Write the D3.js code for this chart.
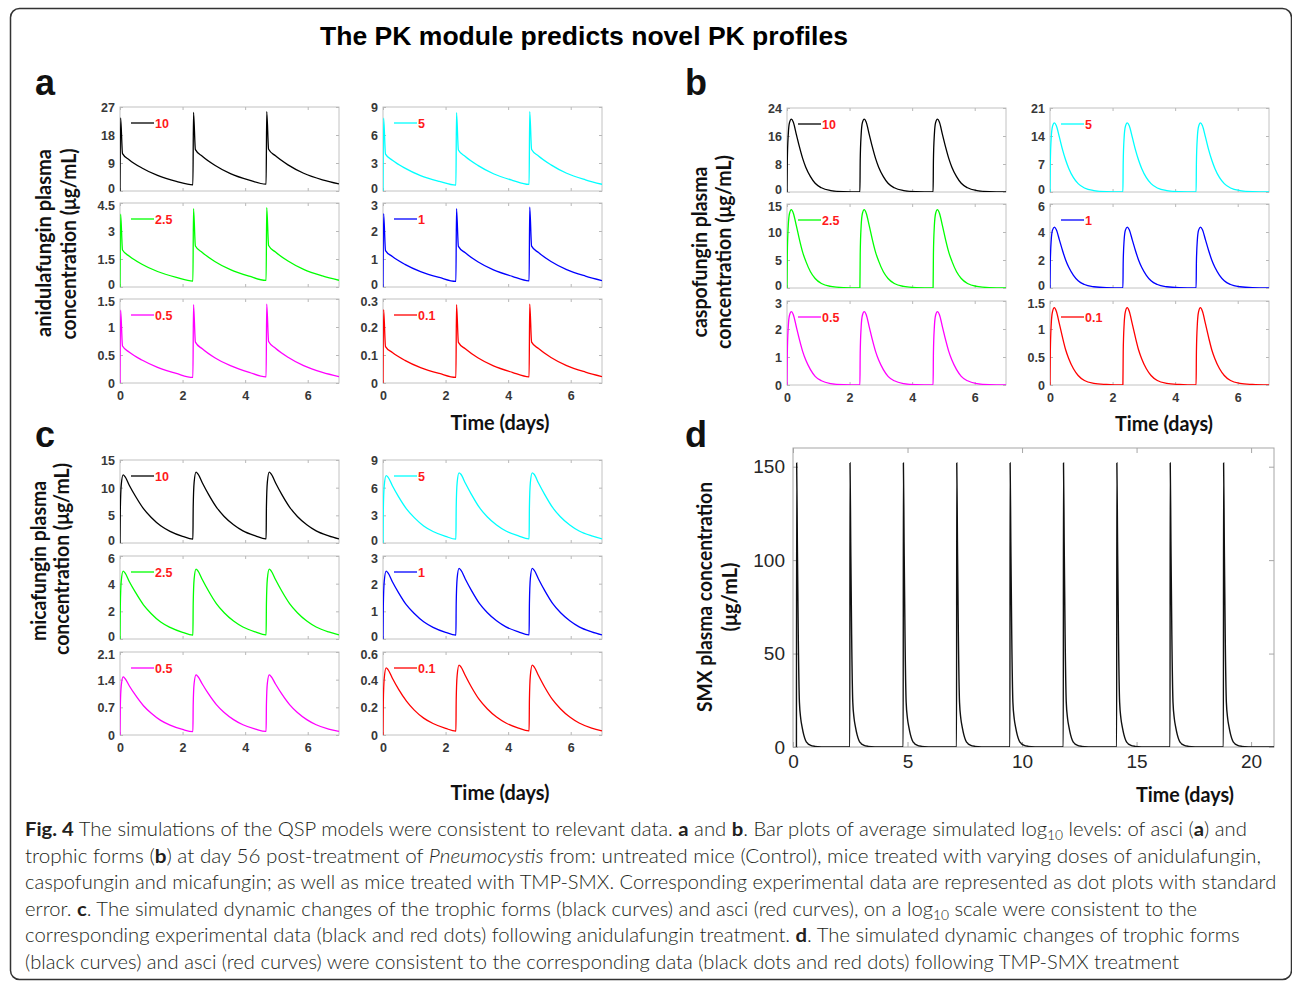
<!DOCTYPE html>
<html>
<head>
<meta charset="utf-8">
<script src="https://cdn.jsdelivr.net/npm/d3@7"></script>
<style>
body{margin:0;background:#fff}
svg{display:block}
</style>
</head>
<body>
<script>
// ---------------- data ----------------
var titleText = "The PK module predicts novel PK profiles";
var dayTicks = [0, 2, 4, 6];
var doseTimes = [0, 2.33, 4.67];
var leftDoses = ["10", "2.5", "0.5"];
var rightDoses = ["5", "1", "0.1"];
var doseColors = ["#000000", "#00ffff", "#00ff00", "#0000ff", "#ff00ff", "#ff0000"];
var doseOrder = ["10", "5", "2.5", "1", "0.5", "0.1"];

// anidulafungin: three cycles per dose
var anidOffsets = [0, 0.02, 0.08, 0.3, 0.7, 1.2, 1.8, 2.33];
var anid10 = [[0, 23.5, 12.0, 10.0, 7.4, 5.0, 3.1, 2.0], [2.0, 25.3, 13.3, 11.2, 8.3, 5.6, 3.5, 2.2], [2.2, 25.5, 13.4, 11.3, 8.4, 5.7, 3.6, 2.3]];
var anid5 = [[0, 7.8, 3.95, 3.3, 2.45, 1.65, 1.03, 0.62], [0.62, 8.4, 4.4, 3.7, 2.75, 1.85, 1.15, 0.7], [0.7, 8.5, 4.45, 3.75, 2.8, 1.9, 1.2, 0.72]];
var anid2p5 = [[0, 3.9, 1.98, 1.65, 1.22, 0.83, 0.52, 0.32], [0.32, 4.2, 2.2, 1.85, 1.37, 0.93, 0.58, 0.35], [0.35, 4.25, 2.22, 1.87, 1.39, 0.94, 0.59, 0.36]];
var anid1 = [[0, 2.62, 1.3, 1.09, 0.81, 0.55, 0.34, 0.2], [0.2, 2.8, 1.45, 1.22, 0.9, 0.61, 0.38, 0.22], [0.22, 2.85, 1.46, 1.23, 0.91, 0.62, 0.39, 0.23]];
var anid0p5 = [[0, 1.3, 0.66, 0.55, 0.41, 0.28, 0.17, 0.1], [0.1, 1.4, 0.73, 0.61, 0.45, 0.31, 0.19, 0.11], [0.11, 1.41, 0.74, 0.62, 0.46, 0.31, 0.19, 0.115]];
var anid0p1 = [[0, 0.262, 0.13, 0.109, 0.081, 0.055, 0.034, 0.02], [0.02, 0.28, 0.145, 0.122, 0.09, 0.061, 0.038, 0.022], [0.022, 0.282, 0.146, 0.123, 0.091, 0.062, 0.039, 0.023]];
var anidTicks = [[0, 9, 18, 27], [0, 3, 6, 9], [0, 1.5, 3, 4.5], [0, 1, 2, 3], [0, 0.5, 1, 1.5], [0, 0.1, 0.2, 0.3]];

// caspofungin: every cycle looks the same
var casOffsets = [0, 0.01, 0.04, 0.08, 0.14, 0.2, 0.3, 0.4, 0.5, 0.6, 0.75, 0.9, 1.1, 1.4, 1.8, 2.33];
var cas10 = [0, 9.0, 16.4, 19.8, 20.8, 20.0, 16.4, 12.8, 9.6, 7.1, 4.4, 2.5, 1.2, 0.42, 0.1, 0.02];
var cas5 = [0, 7.4, 13.7, 16.4, 17.3, 16.6, 13.7, 10.6, 8.0, 5.9, 3.6, 2.1, 1.0, 0.35, 0.09, 0.02];
var cas2p5 = [0, 6.0, 11.1, 13.3, 14.0, 13.4, 11.1, 8.6, 6.4, 4.8, 2.9, 1.7, 0.8, 0.28, 0.07, 0.01];
var cas1 = [0, 1.87, 3.44, 4.13, 4.35, 4.18, 3.44, 2.68, 2.0, 1.48, 0.91, 0.52, 0.25, 0.09, 0.02, 0];
var cas0p5 = [0, 1.13, 2.07, 2.49, 2.62, 2.52, 2.07, 1.61, 1.2, 0.89, 0.55, 0.31, 0.15, 0.05, 0.01, 0];
var cas0p1 = [0, 0.59, 1.09, 1.31, 1.38, 1.32, 1.09, 0.85, 0.63, 0.47, 0.29, 0.17, 0.08, 0.03, 0.01, 0];
var casTicks = [[0, 8, 16, 24], [0, 7, 14, 21], [0, 5, 10, 15], [0, 2, 4, 6], [0, 1, 2, 3], [0, 0.5, 1, 1.5]];

// micafungin: three cycles per dose
var micaOffsets = [0, 0.01, 0.04, 0.1, 0.16, 0.3, 0.5, 0.75, 1.0, 1.3, 1.6, 2.0, 2.33];
var mica10 = [[0, 6.0, 10.5, 12.3, 12.0, 10.4, 8.4, 6.2, 4.6, 3.1, 2.1, 1.2, 0.7], [0.7, 6.5, 11.0, 12.8, 12.5, 10.9, 8.8, 6.5, 4.8, 3.3, 2.2, 1.3, 0.75], [0.75, 6.5, 11.0, 12.8, 12.5, 10.9, 8.8, 6.5, 4.8, 3.3, 2.2, 1.3, 0.75]];
var mica5 = [[0, 3.6, 6.25, 7.3, 7.15, 6.2, 5.0, 3.7, 2.75, 1.85, 1.25, 0.72, 0.42], [0.42, 3.9, 6.55, 7.6, 7.45, 6.5, 5.25, 3.85, 2.85, 1.95, 1.3, 0.77, 0.45], [0.45, 3.9, 6.55, 7.6, 7.45, 6.5, 5.25, 3.85, 2.85, 1.95, 1.3, 0.77, 0.45]];
var mica2p5 = [[0, 2.4, 4.2, 4.9, 4.78, 4.14, 3.35, 2.47, 1.83, 1.23, 0.84, 0.48, 0.28], [0.28, 2.55, 4.35, 5.05, 4.93, 4.3, 3.47, 2.56, 1.9, 1.3, 0.87, 0.51, 0.3], [0.3, 2.55, 4.35, 5.05, 4.93, 4.3, 3.47, 2.56, 1.9, 1.3, 0.87, 0.51, 0.3]];
var mica1 = [[0, 1.2, 2.09, 2.45, 2.39, 2.07, 1.67, 1.23, 0.92, 0.62, 0.42, 0.24, 0.14], [0.14, 1.29, 2.19, 2.55, 2.49, 2.17, 1.75, 1.29, 0.96, 0.66, 0.44, 0.26, 0.15], [0.15, 1.29, 2.19, 2.55, 2.49, 2.17, 1.75, 1.29, 0.96, 0.66, 0.44, 0.26, 0.15]];
var mica0p5 = [[0, 0.72, 1.25, 1.47, 1.43, 1.24, 1.0, 0.74, 0.55, 0.37, 0.25, 0.14, 0.085], [0.085, 0.77, 1.31, 1.52, 1.48, 1.29, 1.04, 0.77, 0.57, 0.39, 0.26, 0.15, 0.09], [0.09, 0.77, 1.31, 1.52, 1.48, 1.29, 1.04, 0.77, 0.57, 0.39, 0.26, 0.15, 0.09]];
var mica0p1 = [[0, 0.24, 0.41, 0.485, 0.473, 0.41, 0.33, 0.245, 0.18, 0.122, 0.083, 0.048, 0.028], [0.028, 0.255, 0.43, 0.505, 0.493, 0.43, 0.345, 0.255, 0.19, 0.13, 0.087, 0.05, 0.03], [0.03, 0.255, 0.43, 0.505, 0.493, 0.43, 0.345, 0.255, 0.19, 0.13, 0.087, 0.05, 0.03]];
var micaTicks = [[0, 5, 10, 15], [0, 3, 6, 9], [0, 2, 4, 6], [0, 1, 2, 3], [0, 0.7, 1.4, 2.1], [0, 0.2, 0.4, 0.6]];

// SMX, panel d
var smxDoseTimes = [0.15, 2.48, 4.81, 7.14, 9.47, 11.8, 14.13, 16.46, 18.79];
var smxOffsets = [0, 0.01, 0.04, 0.08, 0.13, 0.19, 0.25, 0.32, 0.4, 0.5, 0.6, 0.8, 1.1, 1.6, 2.32];
var smxCycle = [0, 152, 110, 60, 24, 15, 10.5, 6.5, 3.5, 1.8, 1.0, 0.35, 0.08, 0.01, 0];
var smxYTicks = [0, 50, 100, 150];
var smxXTicks = [0, 5, 10, 15, 20];

var captionLines = [
  [["Fig. 4", "b"], [" The simulations of the QSP models were consistent to relevant data. "], ["a", "b"], [" and "], ["b", "b"], [". Bar plots of average simulated log"], ["10", "sub"], [" levels: of asci ("], ["a", "b"], [") and"]],
  [["trophic forms ("], ["b", "b"], [") at day 56 post-treatment of "], ["Pneumocystis", "i"], [" from: untreated mice (Control), mice treated with varying doses of anidulafungin,"]],
  [["caspofungin and micafungin; as well as mice treated with TMP-SMX. Corresponding experimental data are represented as dot plots with standard"]],
  [["error. "], ["c", "b"], [". The simulated dynamic changes of the trophic forms (black curves) and asci (red curves), on a log"], ["10", "sub"], [" scale were consistent to the"]],
  [["corresponding experimental data (black and red dots) following anidulafungin treatment. "], ["d", "b"], [". The simulated dynamic changes of trophic forms"]],
  [["(black curves) and asci (red curves) were consistent to the corresponding data (black dots and red dots) following TMP-SMX treatment"]]
];

// ---------------- drawing ----------------
var W = 1292, H = 983;
var tickFont = "'Liberation Sans', Arial, sans-serif";
var labelFont = "Lato, 'Open Sans', sans-serif";

var svg = d3.select("body").append("svg")
  .attr("width", W)
  .attr("height", H);

svg.append("rect")
  .attr("x", 10.5).attr("y", 8.5)
  .attr("width", 1281).attr("height", 971)
  .attr("rx", 9)
  .attr("fill", "none")
  .attr("stroke", "#333")
  .attr("stroke-width", 1.5);

svg.append("text")
  .attr("x", 584).attr("y", 45)
  .attr("text-anchor", "middle")
  .attr("font-family", tickFont)
  .attr("font-weight", "bold")
  .attr("font-size", 25)
  .attr("textLength", 528)
  .attr("lengthAdjust", "spacingAndGlyphs")
  .text(titleText);

// turn dose times + per-cycle values into one list of points
function buildSeries(times, offsets, cycles){
  var pts = [];
  times.forEach(function(t0, i){
    offsets.forEach(function(o, j){
      var t = t0 + o;
      if(pts.length && t <= pts[pts.length - 1][0] + 1e-6) return;
      pts.push([t, cycles[i][j]]);
    });
  });
  return pts;
}

var clipCount = 0;

function smallPlot(px, py, pw, ph, yTicks, pts, color, label, row){
  var x = d3.scaleLinear().domain([0, 7]).range([px, px + pw]);
  var y = d3.scaleLinear().domain([0, yTicks[yTicks.length - 1]]).range([py + ph, py]);
  var g = svg.append("g");
  var cid = "clip" + (clipCount++);
  var showX = row == 2;

  g.append("clipPath").attr("id", cid)
    .append("rect")
    .attr("x", px).attr("y", py - 2)
    .attr("width", pw).attr("height", ph + 2);

  g.append("rect")
    .attr("x", px).attr("y", py)
    .attr("width", pw).attr("height", ph)
    .attr("fill", "none")
    .attr("stroke", "#c2c2c2")
    .attr("stroke-width", 1);

  var left = g.append("g").attr("transform", "translate(" + px + ",0)")
    .call(d3.axisLeft(y).tickValues(yTicks).tickSize(-3).tickPadding(5).tickFormat(function(d){ return String(d); }));
  var right = g.append("g").attr("transform", "translate(" + (px + pw) + ",0)")
    .call(d3.axisRight(y).tickValues(yTicks).tickSize(-3).tickFormat(""));
  var bottom = g.append("g").attr("transform", "translate(0," + (py + ph) + ")")
    .call(d3.axisBottom(x).tickValues(dayTicks).tickSize(-3).tickPadding(8).tickFormat(showX ? function(d){ return String(d); } : ""));
  var top = g.append("g").attr("transform", "translate(0," + py + ")")
    .call(d3.axisTop(x).tickValues(dayTicks).tickSize(-3).tickFormat(""));

  [left, right, bottom, top].forEach(function(a){
    a.select(".domain").remove();
    a.selectAll("line").attr("stroke", "#b8b8b8");
    a.selectAll("text")
      .attr("fill", "#383838")
      .attr("font-family", tickFont)
      .attr("font-weight", "bold")
      .attr("font-size", 12.5);
  });
  // labels at the ends of stacked axes are pulled in a little so they don't collide
  left.selectAll("text").attr("dy", function(d, i){
    if(i == 0 && row < 2) return "0.15em";
    if(i == yTicks.length - 1 && row > 0) return "0.5em";
    return "0.36em";
  });

  g.append("path")
    .datum(pts)
    .attr("clip-path", "url(#" + cid + ")")
    .attr("fill", "none")
    .attr("stroke", color)
    .attr("stroke-width", 1.3)
    .attr("d", d3.line()
      .x(function(d){ return x(d[0]); })
      .y(function(d){ return y(d[1]); })
      .curve(d3.curveMonotoneX));

  // legend
  g.append("line")
    .attr("x1", px + 11).attr("x2", px + 34)
    .attr("y1", py + 16).attr("y2", py + 16)
    .attr("stroke", color)
    .attr("stroke-width", 1.3);
  g.append("text")
    .attr("x", px + 35).attr("y", py + 16)
    .attr("dy", "0.36em")
    .attr("fill", "#ff1a1a")
    .attr("font-family", tickFont)
    .attr("font-weight", "bold")
    .attr("font-size", 12.5)
    .text(label);
}

function rotLabel(bx, cy, len, txt){
  svg.append("text")
    .attr("transform", "translate(" + bx + "," + cy + ") rotate(-90)")
    .attr("text-anchor", "middle")
    .attr("font-family", labelFont)
    .attr("font-weight", "bold")
    .attr("font-size", 21)
    .attr("fill", "#111")
    .attr("textLength", len)
    .attr("lengthAdjust", "spacingAndGlyphs")
    .text(txt);
}

function flatLabel(cx, by, len, txt){
  svg.append("text")
    .attr("x", cx).attr("y", by)
    .attr("text-anchor", "middle")
    .attr("font-family", labelFont)
    .attr("font-weight", "bold")
    .attr("font-size", 21)
    .attr("fill", "#111")
    .attr("textLength", len)
    .attr("lengthAdjust", "spacingAndGlyphs")
    .text(txt);
}

function panelLetter(x, y, ch){
  svg.append("text")
    .attr("x", x).attr("y", y)
    .attr("font-family", tickFont)
    .attr("font-weight", "bold")
    .attr("font-size", 36)
    .attr("fill", "#111")
    .text(ch);
}

// one 3x2 block of dose plots
function drugBlock(cfg){
  var seriesByDose = {};
  doseOrder.forEach(function(d, i){ seriesByDose[d] = {pts: cfg.series[i], ticks: cfg.ticks[i], color: doseColors[i]}; });
  [leftDoses, rightDoses].forEach(function(col, c){
    col.forEach(function(d, r){
      var s = seriesByDose[d];
      smallPlot(cfg.cols[c], cfg.tops[r], cfg.w, cfg.h, s.ticks, s.pts, s.color, d, r);
    });
  });
}

var anidSeries = [anid10, anid5, anid2p5, anid1, anid0p5, anid0p1].map(function(c){ return buildSeries(doseTimes, anidOffsets, c); });
var casSeries = [cas10, cas5, cas2p5, cas1, cas0p5, cas0p1].map(function(c){ return buildSeries(doseTimes, casOffsets, [c, c, c]); });
var micaSeries = [mica10, mica5, mica2p5, mica1, mica0p5, mica0p1].map(function(c){ return buildSeries(doseTimes, micaOffsets, c); });

drugBlock({cols: [120, 383], w: 219, tops: [107, 203, 299], h: 84, series: anidSeries, ticks: anidTicks});
drugBlock({cols: [787, 1050], w: 219, tops: [108, 204, 301], h: 84, series: casSeries, ticks: casTicks});
drugBlock({cols: [120, 383], w: 219, tops: [460, 556, 652], h: 83, series: micaSeries, ticks: micaTicks});

panelLetter(35, 95, "a");
panelLetter(685, 95, "b");
panelLetter(35, 447, "c");
panelLetter(685, 447, "d");

rotLabel(51, 243, 188, "anidulafungin plasma");
rotLabel(76, 244, 191, "concentration (μg/mL)");
rotLabel(707, 252, 171, "caspofungin plasma");
rotLabel(731, 252, 194, "concentration (μg/mL)");
rotLabel(46, 561, 160, "micafungin plasma");
rotLabel(69, 559, 192, "concentration (μg/mL)");
rotLabel(712, 597, 230, "SMX plasma concentration");
rotLabel(737, 597, 69, "(μg/mL)");

flatLabel(500, 430, 99, "Time (days)");
flatLabel(1164, 431, 98, "Time (days)");
flatLabel(500, 800, 99, "Time (days)");
flatLabel(1185, 802, 98, "Time (days)");

// panel d
(function(){
  var px = 793, pw = 481, py = 448, ph = 299;
  var x = d3.scaleLinear().domain([0, 21]).range([px, px + pw]);
  var y = d3.scaleLinear().domain([0, 160]).range([py + ph, py]);
  var g = svg.append("g");

  g.append("clipPath").attr("id", "clipD")
    .append("rect").attr("x", px).attr("y", py).attr("width", pw).attr("height", ph);

  g.append("rect")
    .attr("x", px).attr("y", py)
    .attr("width", pw).attr("height", ph)
    .attr("fill", "none")
    .attr("stroke", "#a6a6a6")
    .attr("stroke-width", 1);

  var left = g.append("g").attr("transform", "translate(" + px + ",0)")
    .call(d3.axisLeft(y).tickValues(smxYTicks).tickSize(-5).tickPadding(8));
  var right = g.append("g").attr("transform", "translate(" + (px + pw) + ",0)")
    .call(d3.axisRight(y).tickValues(smxYTicks).tickSize(-5).tickFormat(""));
  var bottom = g.append("g").attr("transform", "translate(0," + (py + ph) + ")")
    .call(d3.axisBottom(x).tickValues(smxXTicks).tickSize(-5).tickPadding(8));
  var top = g.append("g").attr("transform", "translate(0," + py + ")")
    .call(d3.axisTop(x).tickValues(smxXTicks).tickSize(-5).tickFormat(""));

  [left, right, bottom, top].forEach(function(a){
    a.select(".domain").remove();
    a.selectAll("line").attr("stroke", "#a6a6a6");
    a.selectAll("text")
      .attr("fill", "#262626")
      .attr("font-family", tickFont)
      .attr("font-size", 19);
  });

  var pts = buildSeries(smxDoseTimes, smxOffsets, smxDoseTimes.map(function(){ return smxCycle; }));
  g.append("path")
    .datum(pts)
    .attr("clip-path", "url(#clipD)")
    .attr("fill", "none")
    .attr("stroke", "#111")
    .attr("stroke-width", 1.4)
    .attr("d", d3.line()
      .x(function(d){ return x(d[0]); })
      .y(function(d){ return y(d[1]); })
      .curve(d3.curveMonotoneX));
})();

// caption, each line stretched to the width it has in the figure
var captionRight = [1248, 1262, 1277, 1198, 1240, 1180];
captionLines.forEach(function(line, i){
  var by = 836 + i * 26.6;
  var g = svg.append("g");
  var t = g.append("text")
    .attr("x", 0).attr("y", 0)
    .attr("font-family", labelFont)
    .attr("font-weight", 300)
    .attr("font-size", 19)
    .attr("fill", "#231f20");
  var shifted = false;
  line.forEach(function(seg){
    var sp = t.append("tspan").text(seg[0]);
    var st = seg[1] || "";
    if(shifted){ sp.attr("dy", -4); shifted = false; }
    if(st == "b") sp.attr("font-weight", "bold");
    if(st == "i") sp.attr("font-style", "italic");
    if(st == "sub"){ sp.attr("font-size", 13).attr("dy", 4); shifted = true; }
  });
  var w = t.node().getComputedTextLength();
  var sx = (captionRight[i] - 25) / w;
  g.attr("transform", "translate(25," + by + ") scale(" + sx + ",1)");
});
</script>
</body>
</html>
